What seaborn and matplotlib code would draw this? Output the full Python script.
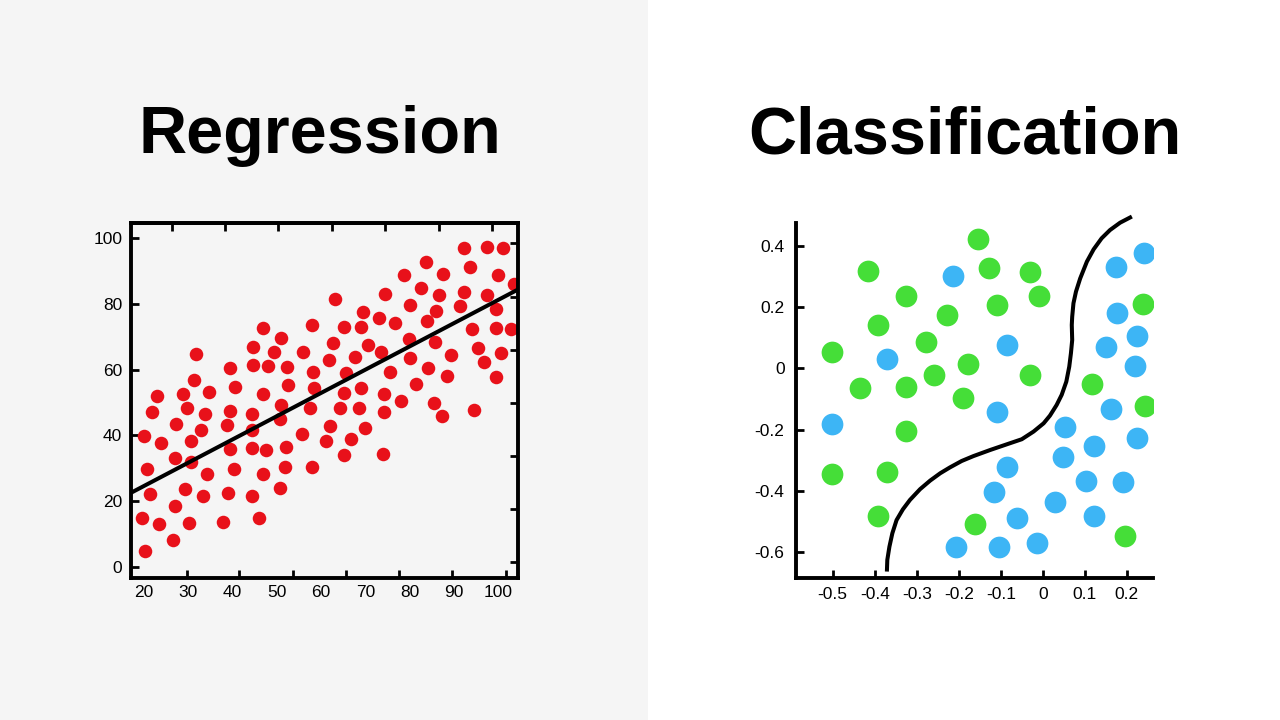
import matplotlib
matplotlib.use("Agg")
import matplotlib.pyplot as plt
import seaborn as sns
import pandas as pd
from matplotlib.ticker import FixedLocator

sns.set_theme(style="white")
plt.rcParams['font.family'] = ['Liberation Sans', 'DejaVu Sans']

# ---------------- Regression data ----------------
reg_x = [20.0, 20.8, 19.6, 20.4, 21.5, 21.9, 23.0, 23.5, 23.9, 26.6, 27.1, 27.1, 27.4, 28.8,
         29.3, 29.8, 30.3, 30.7, 30.7, 31.3, 31.9, 33.5, 33.0, 33.9, 34.2, 34.7, 37.8, 38.8,
         39.0, 39.4, 39.5, 39.5, 40.4, 40.7, 44.4, 44.4, 44.4, 44.5, 44.6, 44.6, 46.1, 46.8,
         47.0, 47.6, 47.0, 48.0, 49.5, 50.7, 50.7, 51.0, 51.0, 51.9, 52.0, 52.3, 52.5, 55.6,
         55.9, 57.6, 58.0, 58.2, 58.3, 58.0, 61.2, 61.7, 61.9, 62.6, 63.2, 64.3, 65.1, 65.1,
         65.1, 65.5, 66.7, 67.6, 68.5, 69.1, 69.1, 69.4, 70.0, 70.6, 73.0, 73.6, 74.1, 74.2,
         73.9, 74.5, 75.6, 76.6, 77.9, 78.6, 79.7, 80.1, 80.1, 81.4, 82.6, 83.7, 83.9, 84.1,
         85.4, 85.7, 85.9, 86.6, 87.2, 87.4, 88.4, 89.3, 91.4, 92.1, 92.3, 93.6, 94.0, 94.4,
         95.3, 96.6, 97.4, 97.4, 99.3, 99.3, 99.5, 99.8, 100.6, 100.9, 102.8, 103.5]
reg_y = [39.9, 29.8, 15.0, 4.9, 22.1, 47.0, 52.1, 13.0, 37.8, 8.1, 18.5, 33.0, 43.6, 52.6,
         23.7, 48.5, 13.5, 38.4, 31.8, 56.9, 64.7, 21.5, 41.8, 46.5, 28.2, 53.3, 13.7, 43.2,
         22.6, 36.0, 47.6, 60.4, 29.8, 54.8, 21.5, 36.3, 41.8, 46.5, 61.4, 66.8, 15.0, 52.6,
         28.2, 35.5, 72.6, 61.1, 65.5, 24.1, 45.0, 49.2, 69.7, 30.3, 36.4, 60.9, 55.3, 40.4,
         65.5, 48.5, 30.3, 59.4, 54.5, 73.6, 38.4, 63.1, 43.0, 68.2, 81.7, 48.5, 52.8, 34.0,
         73.1, 59.1, 38.9, 64.0, 48.5, 54.6, 73.1, 77.7, 42.4, 67.7, 75.9, 65.5, 52.6, 47.0,
         34.3, 83.2, 59.4, 74.4, 50.6, 88.8, 69.5, 63.5, 79.7, 55.6, 84.8, 92.9, 74.8, 60.4,
         49.9, 68.5, 78.0, 82.7, 45.9, 89.3, 58.2, 64.5, 79.5, 83.8, 97.2, 91.2, 72.4, 47.7,
         66.7, 62.4, 82.7, 97.3, 78.4, 72.6, 57.9, 88.8, 65.2, 97.0, 72.3, 86.1]
fit_x = [17.1, 104.3]
fit_y = [22.5, 84.4]

reg_xticks = [20, 30, 40, 50, 60, 70, 80, 90, 100]
reg_yticks = [0, 20, 40, 60, 80, 100]
reg_bottom_marks = [29.8, 41.6, 53.7, 65.7, 77.5, 89.5, 101.6]
reg_top_marks = [26.4, 38.4, 50.4, 62.4, 74.5, 86.5, 98.5]
reg_right_marks = [1.5, 17.7, 33.9, 49.9, 66.0, 82.2, 98.5]

# ---------------- Classification data ----------------
green_x = [-0.155, -0.415, -0.129, -0.030, -0.326, -0.110, -0.008, -0.227, -0.391, -0.279,
           -0.501, -0.179, -0.260, -0.030, -0.435, -0.326, -0.191, 0.118, 0.244, 0.238,
           -0.326, -0.501, -0.370, -0.391, -0.161, 0.196]
green_y = [0.422, 0.319, 0.329, 0.314, 0.237, 0.207, 0.237, 0.173, 0.142, 0.085,
           0.053, 0.014, -0.021, -0.021, -0.065, -0.061, -0.095, -0.052, -0.122, 0.211,
           -0.204, -0.345, -0.337, -0.480, -0.509, -0.547]
blue_x = [-0.213, 0.174, 0.240, 0.176, 0.224, -0.086, -0.370, 0.150, 0.220, -0.501,
          -0.110, 0.163, 0.053, 0.224, 0.122, 0.049, -0.086, 0.102, 0.190, -0.117,
          0.029, -0.062, 0.122, -0.207, -0.104, -0.014]
blue_y = [0.303, 0.330, 0.378, 0.182, 0.106, 0.077, 0.031, 0.071, 0.009, -0.181,
          -0.141, -0.133, -0.190, -0.226, -0.253, -0.288, -0.320, -0.366, -0.369, -0.402,
          -0.437, -0.487, -0.480, -0.582, -0.582, -0.571]
curve_x = [-0.371, -0.370, -0.365, -0.358, -0.348, -0.333, -0.316, -0.292, -0.268, -0.244,
           -0.221, -0.193, -0.165, -0.125, -0.078, -0.050, -0.022, 0.002, 0.017, 0.033,
           0.045, 0.056, 0.063, 0.067, 0.070, 0.069, 0.070, 0.073, 0.079, 0.089,
           0.105, 0.121, 0.140, 0.160, 0.184, 0.212]
curve_y = [-0.663, -0.625, -0.582, -0.538, -0.495, -0.460, -0.429, -0.394, -0.366, -0.342,
           -0.323, -0.302, -0.286, -0.266, -0.244, -0.231, -0.206, -0.179, -0.154, -0.119,
           -0.086, -0.043, 0.006, 0.050, 0.093, 0.142, 0.169, 0.213, 0.251, 0.294,
           0.349, 0.389, 0.425, 0.452, 0.476, 0.496]

cls_xticks = [-0.5, -0.4, -0.3, -0.2, -0.1, 0, 0.1, 0.2]
cls_xlabels = ['-0.5', '-0.4', '-0.3', '-0.2', '-0.1', '0', '0.1', '0.2']
cls_yticks = [0.4, 0.2, 0, -0.2, -0.4, -0.6]
cls_ylabels = ['0.4', '0.2', '0', '-0.2', '-0.4', '-0.6']

RED = '#E8111A'
GREEN = '#45DE38'
BLUE = '#3DB5F5'

fig = plt.figure(figsize=(12.8, 7.2), dpi=100)
fig.patch.set_facecolor('white')
fig.add_artist(plt.Rectangle((0, 0), 648 / 1280, 1, transform=fig.transFigure,
                             facecolor='#F5F5F5', edgecolor='none', zorder=0))

# ---------- Regression panel ----------
ax1 = fig.add_axes([130.7 / 1280, 1 - 578 / 720, 387 / 1280, 355 / 720])
ax1.set_facecolor('#F5F5F5')
df_reg = pd.DataFrame({'x': reg_x, 'y': reg_y})
sns.scatterplot(data=df_reg, x='x', y='y', ax=ax1, color=RED, s=95, linewidth=0, zorder=2)
df_fit = pd.DataFrame({'x': fit_x, 'y': fit_y})
sns.lineplot(data=df_fit, x='x', y='y', ax=ax1, color='black', linewidth=2.9, zorder=3)
ax1.set_xlim(17.1, 104.3)
ax1.set_ylim(-3.4, 104.7)
ax1.set_xlabel('')
ax1.set_ylabel('')
for sp in ax1.spines.values():
    sp.set_visible(True)
    sp.set_color('black')
    sp.set_linewidth(2.8)
ax1.set_xticks(reg_xticks)
ax1.set_xticklabels([str(v) for v in reg_xticks])
ax1.set_yticks(reg_yticks)
ax1.set_yticklabels([str(v) for v in reg_yticks])
ax1.xaxis.set_minor_locator(FixedLocator(reg_bottom_marks))
ax1.yaxis.set_minor_locator(FixedLocator(reg_right_marks))
ax1.tick_params(axis='x', which='major', length=0, pad=5, labelsize=12.5, colors='black')
ax1.tick_params(axis='x', which='minor', bottom=True, top=False, direction='in',
                length=6, width=2, color='black')
ax1.tick_params(axis='y', which='major', left=True, right=False, direction='in',
                length=6, width=2, pad=6, labelsize=12.5, colors='black')
ax1.tick_params(axis='y', which='minor', left=False, right=True, direction='in',
                length=6, width=2, color='black')
secx = ax1.secondary_xaxis('top')
secx.set_xticks(reg_top_marks)
secx.tick_params(direction='in', length=6, width=2, labeltop=False, color='black')
secx.spines['top'].set_linewidth(2.8)

# ---------- Classification panel ----------
ax2 = fig.add_axes([795.7 / 1280, 1 - 578.3 / 720, 357.6 / 1280, 355 / 720])
ax2.set_facecolor('white')
df_g = pd.DataFrame({'x': green_x, 'y': green_y})
df_b = pd.DataFrame({'x': blue_x, 'y': blue_y})
sns.scatterplot(data=df_g, x='x', y='y', ax=ax2, color=GREEN, s=245, linewidth=0, zorder=2)
sns.scatterplot(data=df_b, x='x', y='y', ax=ax2, color=BLUE, s=245, linewidth=0, zorder=2)
df_c = pd.DataFrame({'x': curve_x, 'y': curve_y})
sns.lineplot(data=df_c, x='x', y='y', ax=ax2, color='black', linewidth=2.9,
             sort=False, estimator=None, zorder=3)
for ln in ax2.lines:
    ln.set_clip_on(False)
    ln.set_solid_capstyle('butt')
    ln.set_solid_joinstyle('round')
ax2.set_xlim(-0.588, 0.263)
ax2.set_ylim(-0.685, 0.474)
ax2.set_xlabel('')
ax2.set_ylabel('')
for side in ['top', 'right']:
    ax2.spines[side].set_visible(False)
for side in ['left', 'bottom']:
    ax2.spines[side].set_visible(True)
    ax2.spines[side].set_color('black')
    ax2.spines[side].set_linewidth(2.8)
ax2.set_xticks(cls_xticks)
ax2.set_xticklabels(cls_xlabels)
ax2.set_yticks(cls_yticks)
ax2.set_yticklabels(cls_ylabels)
ax2.tick_params(axis='both', which='major', direction='in', length=6, width=2,
                labelsize=12.5, colors='black')
ax2.tick_params(axis='x', bottom=True, pad=6)
ax2.tick_params(axis='y', left=True, pad=8)

# ---------- Titles ----------
fig.text(320 / 1280, 1 - 153 / 720, 'Regression', ha='center', va='baseline',
         fontsize=48, fontweight='bold', color='black')
fig.text(965 / 1280, 1 - 153 / 720, 'Classification', ha='center', va='baseline',
         fontsize=48, fontweight='bold', color='black')

fig.savefig('out.png', dpi=100, facecolor=fig.get_facecolor())
